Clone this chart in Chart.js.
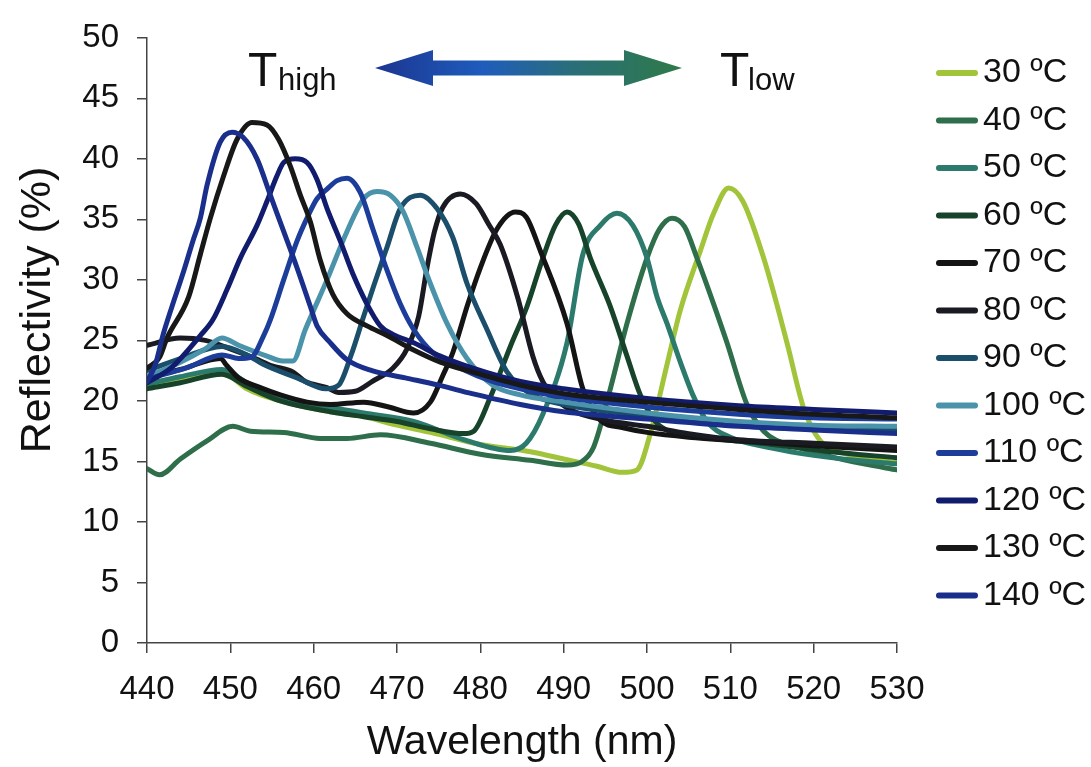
<!DOCTYPE html>
<html>
<head>
<meta charset="utf-8">
<title>Reflectivity spectra</title>
<script src="https://cdn.jsdelivr.net/npm/chart.js@4.4.1/dist/chart.umd.min.js"></script>
<style>
  html, body { margin: 0; padding: 0; background: #fff; }
  #wrap { width: 1091px; height: 767px; }
</style>
</head>
<body>
<div id="wrap"><canvas id="spectra"></canvas></div>
<script>
// temperatures and line colours, 30 ºC first
const temps = ["30 ºC", "40 ºC", "50 ºC", "60 ºC", "70 ºC", "80 ºC", "90 ºC",
               "100 ºC", "110 ºC", "120 ºC", "130 ºC", "140 ºC"];
const colors = ["#a2c43a", "#2e6e4a", "#2c7a6c", "#16432a", "#141414", "#1a1a22",
                "#1b4e6b", "#4a93ab", "#1c3d9a", "#121c6e", "#181818", "#1a2f8c"];

// reflectivity (%) vs wavelength (nm), [nm, %]
const r30 = [[440,21.2],[444,21.8],[448,22.3],[450,22.0],[452,21.0],[456,20.0],[462,19.1],
  [466,18.7],[470,18.0],[474,17.4],[480,16.4],[486,15.8],[490,15.2],[494,14.6],[497,14.1],
  [498.8,14.3],[500.4,17.3],[502.4,23.0],[504,27.5],[506.4,32.4],[508,35.5],[509.8,37.6],
  [511.5,36.5],[514,31.8],[516.8,24.8],[518.8,19.4],[520.8,16.7],[524,15.6],[527,15.2],[530,14.9]];
const r40 = [[440,14.4],[441.5,13.9],[444,15.2],[447.2,16.7],[450.3,17.9],[452.4,17.5],[456.4,17.4],
  [460.8,16.9],[464,16.9],[468,17.2],[474,16.5],[480,15.6],[486,15.1],[490.4,14.7],[492.2,15.0],
  [493.6,16.2],[495.6,21.0],[497.6,26.4],[500,31.8],[501.5,34.2],[503,35.1],[504.5,34.4],
  [506,31.8],[508,28.0],[509.6,24.8],[512,19.7],[514,17.5],[518,16.2],[522,15.4],[526,14.8],[530,14.3]];
const r50 = [[440,21.4],[444,22.0],[449,22.6],[452,21.5],[455,20.5],[460,19.7],[466,19.0],
  [472,18.3],[478,16.8],[483.6,15.9],[485.5,16.5],[487.5,18.9],[490.4,24.8],[492.3,32.1],
  [494.4,34.5],[496.4,35.5],[498.3,34.5],[500,31.8],[501.2,28.6],[502.4,26.4],[504,23.2],
  [505.5,20.5],[507.2,18.3],[510,17.0],[515,16.1],[520,15.5],[525,15.1],[530,14.8]];
const r60 = [[440,21.0],[444,21.5],[449,22.2],[452,21.2],[456,20.0],[462,19.1],[466,18.7],
  [470,18.3],[474,17.7],[478,17.3],[479.2,17.5],[481.2,20.3],[483.6,24.5],[485.6,27.8],
  [487.5,31.8],[489,34.5],[490.4,35.6],[491.8,34.6],[493.2,31.8],[495.6,27.8],[497.6,23.7],
  [499.2,20.5],[501,18.3],[503,17.4],[508,16.9],[515,16.4],[522,15.8],[530,15.3]];
const r70 = [[440,22.0],[444,22.6],[448.8,23.5],[449.6,22.9],[451,21.9],[453.6,21.1],[456,20.5],
  [459.2,19.9],[462,19.7],[466,19.9],[469,19.5],[472,19.0],[474,19.9],[475.5,22.1],[476.7,24.0],
  [478.5,28.0],[480,31.0],[482,34.2],[484.2,35.6],[485.5,35.2],[487.2,32.4],[490.4,26.4],
  [492.3,21.0],[494.4,18.4],[497,17.8],[500,17.4],[505,17.0],[511,16.7],[520,16.3],[530,15.9]];
const r80 = [[440,24.6],[444,25.2],[447,25.0],[450,24.3],[453,23.5],[455,22.9],[457.5,22.4],
  [459,21.6],[461.6,21.1],[463,20.7],[465,20.8],[467,21.6],[469.5,22.7],[471.2,24.3],[472.6,27.0],
  [473.6,31.0],[474.5,34.0],[475.5,36.0],[477.6,37.1],[479.5,36.3],[481,34.6],[482.4,32.9],
  [484.5,28.5],[486.3,23.7],[487.5,21.6],[489,20.2],[491,19.2],[495,18.4],[500,17.9],[505,17.3],
  [511,16.8],[520,16.5],[530,16.2]];
const r90 = [[440,22.5],[444,23.5],[449,24.5],[452,23.8],[454,23.0],[458,21.9],[461.5,21.0],
  [463,21.3],[464.5,23.8],[466,27.0],[467.2,29.5],[468.8,32.7],[470.4,35.9],[472.8,37.0],
  [474.8,35.9],[476.7,33.5],[478.4,29.7],[480.8,25.9],[483.2,22.4],[486,20.6],[490,19.7],
  [500,18.8],[511,18.1],[520,17.8],[530,17.6]];
const r100 = [[440,22.0],[444,23.2],[447,24.3],[449,25.2],[451,24.6],[454.4,23.7],[456.3,23.3],
  [457.5,23.3],[459,25.9],[461.6,30.0],[464,34.0],[466,36.7],[467.6,37.3],[469.2,37.0],
  [470.7,35.7],[472.4,32.7],[474,29.7],[476,26.4],[478.4,23.5],[481.5,21.3],[484.8,20.5],
  [490,19.9],[500,19.0],[511,18.3],[520,18.0],[530,17.9]];
const r110 = [[440,21.8],[445,22.8],[449,23.8],[451,23.5],[452.5,23.6],[454,25.4],[454.8,26.7],
  [456.4,30.0],[458,33.2],[459.2,35.1],[460.4,36.7],[461.6,37.5],[462.8,38.2],[464,38.4],
  [465.6,37.2],[467.1,34.2],[468.8,30.8],[470.4,28.0],[472,25.9],[474.3,24.0],[477.6,22.7],
  [481.5,21.6],[484.8,21.0],[490,20.3],[500,19.5],[511,18.9],[520,18.6],[530,18.5]];
const r120 = [[440,21.5],[443,22.8],[446.4,25.4],[447.9,26.7],[449.6,29.2],[451.2,31.8],
  [453.2,34.5],[454.4,36.5],[455.6,38.6],[456.4,39.7],[457.8,40.0],[459.2,39.7],[460.4,38.3],
  [461.6,35.9],[463.2,33.2],[464.7,30.5],[466.4,28.0],[468,26.2],[469.5,25.5],[472,24.8],
  [475.2,23.7],[479.1,22.7],[484.8,21.6],[490,21.0],[500,20.2],[511,19.6],[520,19.3],[530,19.0]];
const r130 = [[440,22.7],[441.5,23.6],[442.4,25.2],[445,28.6],[446.4,32.1],[447.6,35.1],
  [449.2,38.6],[450.8,41.6],[452.6,43.0],[454.4,42.8],[455.8,41.6],[457.2,39.4],[458.4,37.0],
  [459.6,34.8],[460.8,31.6],[462.3,28.8],[464,27.2],[466.4,26.2],[468.8,25.4],[472,24.2],
  [475.2,23.2],[479,22.4],[484.8,21.3],[490,20.6],[500,19.9],[511,19.3],[520,18.9],[530,18.6]];
const r140 = [[440,21.6],[441,23.0],[441.9,25.4],[443,27.8],[444.3,30.5],[445.5,33.2],
  [446.4,35.1],[447.2,37.8],[448.8,41.4],[450.2,42.2],[451.5,41.8],[453.2,40.0],[454.8,37.0],
  [456.4,34.0],[458,31.0],[459.6,27.8],[460.4,26.2],[462,24.8],[464,23.4],[467,22.5],
  [471,21.9],[475,21.3],[479,20.6],[484.8,19.7],[490,19.1],[500,18.5],[511,17.9],[520,17.6],[530,17.3]];

const spectra = [r30, r40, r50, r60, r70, r80, r90, r100, r110, r120, r130, r140];

// axis ranges and tick steps
const xRange = [440, 530], xStep = 10;
const yRange = [0, 50], yStep = 5;

const FONT = "'Liberation Sans', Arial, Helvetica, sans-serif";

// legend column, y title, and the T(high) <-> T(low) arrow
const extras = {
  id: "extras",
  afterDraw(chart) {
    const ctx = chart.ctx;
    ctx.save();

    ctx.textBaseline = "middle";
    ctx.font = "34px " + FONT;
    chart.data.datasets.forEach((ds, i) => {
      const y = 73 + i * 47.5;
      ctx.strokeStyle = ds.borderColor;
      ctx.lineWidth = 6;
      ctx.lineCap = "round";
      ctx.beginPath();
      ctx.moveTo(939, y);
      ctx.lineTo(975, y);
      ctx.stroke();
      ctx.fillStyle = "#111";
      ctx.fillText(ds.label, 983, y);
    });

    // y axis title, rotated
    ctx.save();
    ctx.translate(38, 310);
    ctx.rotate(-Math.PI / 2);
    ctx.textAlign = "center";
    ctx.font = "43px " + FONT;
    ctx.fillText("Reflectivity (%)", 0, 0);
    ctx.restore();

    // T labels
    ctx.textBaseline = "alphabetic";
    ctx.fillStyle = "#111";
    ctx.font = "48px " + FONT;
    ctx.fillText("T", 248, 86);
    ctx.fillText("T", 720, 86);
    ctx.font = "31px " + FONT;
    ctx.fillText("high", 278, 90);
    ctx.fillText("low", 748, 90);

    // double-headed arrow, blue on the left fading to green on the right
    const x0 = 375, x1 = 682, yc = 68, head = 58, hh = 18, sh = 7.5;
    const g = ctx.createLinearGradient(x0, 0, x1, 0);
    g.addColorStop(0, "#1c3590");
    g.addColorStop(0.35, "#1f5cbc");
    g.addColorStop(0.65, "#2a6f78");
    g.addColorStop(1, "#2e7a48");
    ctx.fillStyle = g;
    ctx.beginPath();
    ctx.moveTo(x0, yc);
    ctx.lineTo(x0 + head, yc - hh);
    ctx.lineTo(x0 + head, yc - sh);
    ctx.lineTo(x1 - head, yc - sh);
    ctx.lineTo(x1 - head, yc - hh);
    ctx.lineTo(x1, yc);
    ctx.lineTo(x1 - head, yc + hh);
    ctx.lineTo(x1 - head, yc + sh);
    ctx.lineTo(x0 + head, yc + sh);
    ctx.lineTo(x0 + head, yc + hh);
    ctx.closePath();
    ctx.fill();

    ctx.restore();
  }
};

new Chart(document.getElementById("spectra"), {
  type: "line",
  data: {
    datasets: temps.map((t, i) => ({
      label: t,
      data: spectra[i],
      borderColor: colors[i],
      backgroundColor: colors[i],
      borderWidth: 5,
      borderJoinStyle: "round",
      borderCapStyle: "round",
      pointRadius: 0,
      fill: false,
      cubicInterpolationMode: "monotone",
      order: temps.length - i
    }))
  },
  options: {
    responsive: true,
    maintainAspectRatio: false,
    animation: false,
    layout: { padding: { top: 26, right: 194, bottom: 0, left: 0 } },
    plugins: {
      legend: { display: false },
      tooltip: { enabled: false }
    },
    scales: {
      x: {
        type: "linear",
        min: xRange[0],
        max: xRange[1],
        ticks: { stepSize: xStep, color: "#111", padding: 17, maxRotation: 0,
                 font: { size: 33, family: FONT } },
        grid: { drawOnChartArea: false, tickLength: 10, color: "#444", lineWidth: 1.5 },
        border: { color: "#444", width: 1.5 },
        title: { display: true, text: "Wavelength (nm)", color: "#111",
                 font: { size: 41, family: FONT }, padding: { top: 0, bottom: 0 } },
        afterFit(scale) { scale.height = 124; }
      },
      y: {
        min: yRange[0],
        max: yRange[1],
        ticks: { stepSize: yStep, color: "#111", padding: 18,
                 font: { size: 33, family: FONT } },
        grid: { drawOnChartArea: false, tickLength: 10, color: "#444", lineWidth: 1.5 },
        border: { color: "#444", width: 1.5 },
        afterFit(scale) { scale.width = 147; }
      }
    }
  },
  plugins: [extras]
});
</script>
</body>
</html>
